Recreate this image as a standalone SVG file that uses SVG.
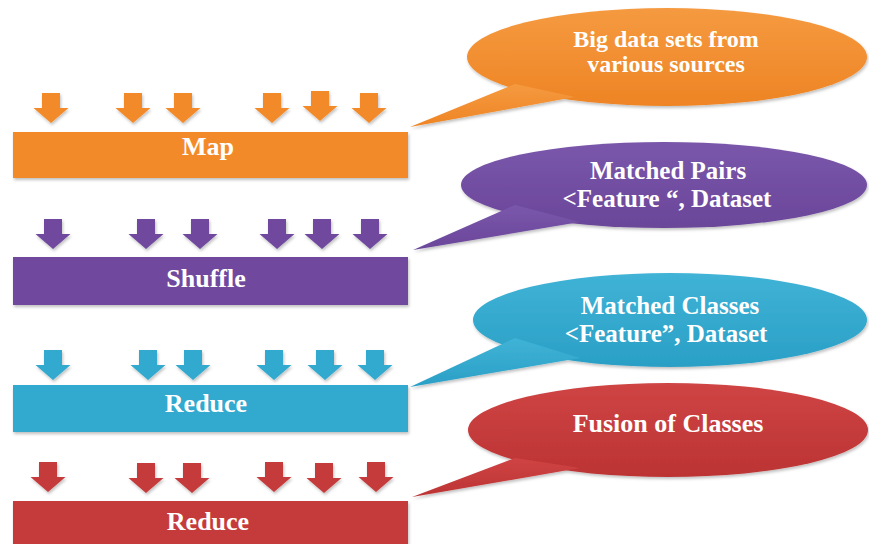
<svg xmlns="http://www.w3.org/2000/svg" width="869" height="544" viewBox="0 0 869 544" font-family="Liberation Serif, serif">
<defs>
  <filter id="sh" x="-5%" y="-10%" width="110%" height="130%">
    <feDropShadow dx="1" dy="2" stdDeviation="1.5" flood-color="#000" flood-opacity="0.25"/>
  </filter>
  <linearGradient id="gO" x1="0" y1="0" x2="0" y2="1"><stop offset="0" stop-color="#F59A40"/><stop offset="1" stop-color="#EE8424"/></linearGradient>
  <linearGradient id="gP" x1="0" y1="0" x2="0" y2="1"><stop offset="0" stop-color="#7A57AB"/><stop offset="1" stop-color="#6A4699"/></linearGradient>
  <linearGradient id="gC" x1="0" y1="0" x2="0" y2="1"><stop offset="0" stop-color="#40B3D6"/><stop offset="1" stop-color="#2A9FC6"/></linearGradient>
  <linearGradient id="gR" x1="0" y1="0" x2="0" y2="1"><stop offset="0" stop-color="#CF4444"/><stop offset="1" stop-color="#BC3333"/></linearGradient>
  <path id="arr" d="M-9,0 h18 v15 h8.5 l-17.5,15 l-17.5,-15 h8.5 z"/>
</defs>
<style>
  text { font-weight: bold; font-size: 26px; fill: #fff; text-anchor: middle; }
  .t2 { font-size: 25px; }
  .t3 { font-size: 24px; }
  .o { fill: #F38A2B; }
  .p { fill: #6F4A9E; }
  .c { fill: #31A9CF; }
  .r { fill: #C53B3B; }
</style>

<g id="map">
  <g class="o" filter="url(#sh)">
    <use href="#arr" x="51" y="93"/><use href="#arr" x="133" y="93"/><use href="#arr" x="183" y="93"/>
    <use href="#arr" x="272" y="93"/><use href="#arr" x="320" y="91"/><use href="#arr" x="369" y="93"/>
    <rect x="13" y="132" width="395" height="46"/>
  </g>
  <text x="208" y="155" font-family="Liberation Serif, serif">Map</text>
</g>

<g id="shuffle">
  <g class="p" filter="url(#sh)">
    <use href="#arr" x="53" y="219"/><use href="#arr" x="146" y="219"/><use href="#arr" x="200" y="219"/>
    <use href="#arr" x="277" y="219"/><use href="#arr" x="322" y="219"/><use href="#arr" x="370" y="219"/>
    <rect x="13" y="257" width="395" height="48"/>
  </g>
  <text x="206" y="287" font-family="Liberation Serif, serif">Shuffle</text>
</g>

<g id="reduce1">
  <g class="c" filter="url(#sh)">
    <use href="#arr" x="53" y="350"/><use href="#arr" x="148" y="350"/><use href="#arr" x="193" y="350"/>
    <use href="#arr" x="274" y="350"/><use href="#arr" x="325" y="350"/><use href="#arr" x="375" y="350"/>
    <rect x="13" y="385" width="395" height="47"/>
  </g>
  <text x="206" y="412" font-family="Liberation Serif, serif">Reduce</text>
</g>

<g id="reduce2">
  <g class="r" filter="url(#sh)">
    <use href="#arr" x="48" y="462"/><use href="#arr" x="146" y="463"/><use href="#arr" x="192" y="463"/>
    <use href="#arr" x="274" y="462"/><use href="#arr" x="324" y="463"/><use href="#arr" x="376" y="462"/>
    <rect x="13" y="501" width="395" height="50"/>
  </g>
  <text x="208" y="530" font-family="Liberation Serif, serif">Reduce</text>
</g>

<g id="callouts">
  <g id="bubble1" filter="url(#sh)" fill="url(#gO)">
    <ellipse cx="667" cy="57" rx="200" ry="49"/>
    <polygon points="410,127 515,84 575,97"/>
  </g>
  <g id="bubble2" filter="url(#sh)" fill="url(#gP)">
    <ellipse cx="664" cy="185" rx="203" ry="43"/>
    <polygon points="413,250 515,205 580,222"/>
  </g>
  <g id="bubble3" filter="url(#sh)" fill="url(#gC)">
    <ellipse cx="670" cy="320" rx="197" ry="47"/>
    <polygon points="410,387 515,338 580,358"/>
  </g>
  <g id="bubble4" filter="url(#sh)" fill="url(#gR)">
    <ellipse cx="668" cy="430" rx="200" ry="47"/>
    <polygon points="412,497 515,458 580,468"/>
  </g>
</g>

<g id="callout-text" font-family="Liberation Serif, serif">
  <text class="t3" x="666" y="47">Big data sets from</text>
  <text class="t3" x="666" y="72">various sources</text>
  <text class="t2" x="668" y="179">Matched Pairs</text>
  <text class="t2" x="667" y="207">&lt;Feature “, Dataset</text>
  <text class="t2" x="670" y="314">Matched Classes</text>
  <text class="t2" x="666" y="342">&lt;Feature”, Dataset</text>
  <text x="668" y="432">Fusion of Classes</text>
</g>
</svg>
